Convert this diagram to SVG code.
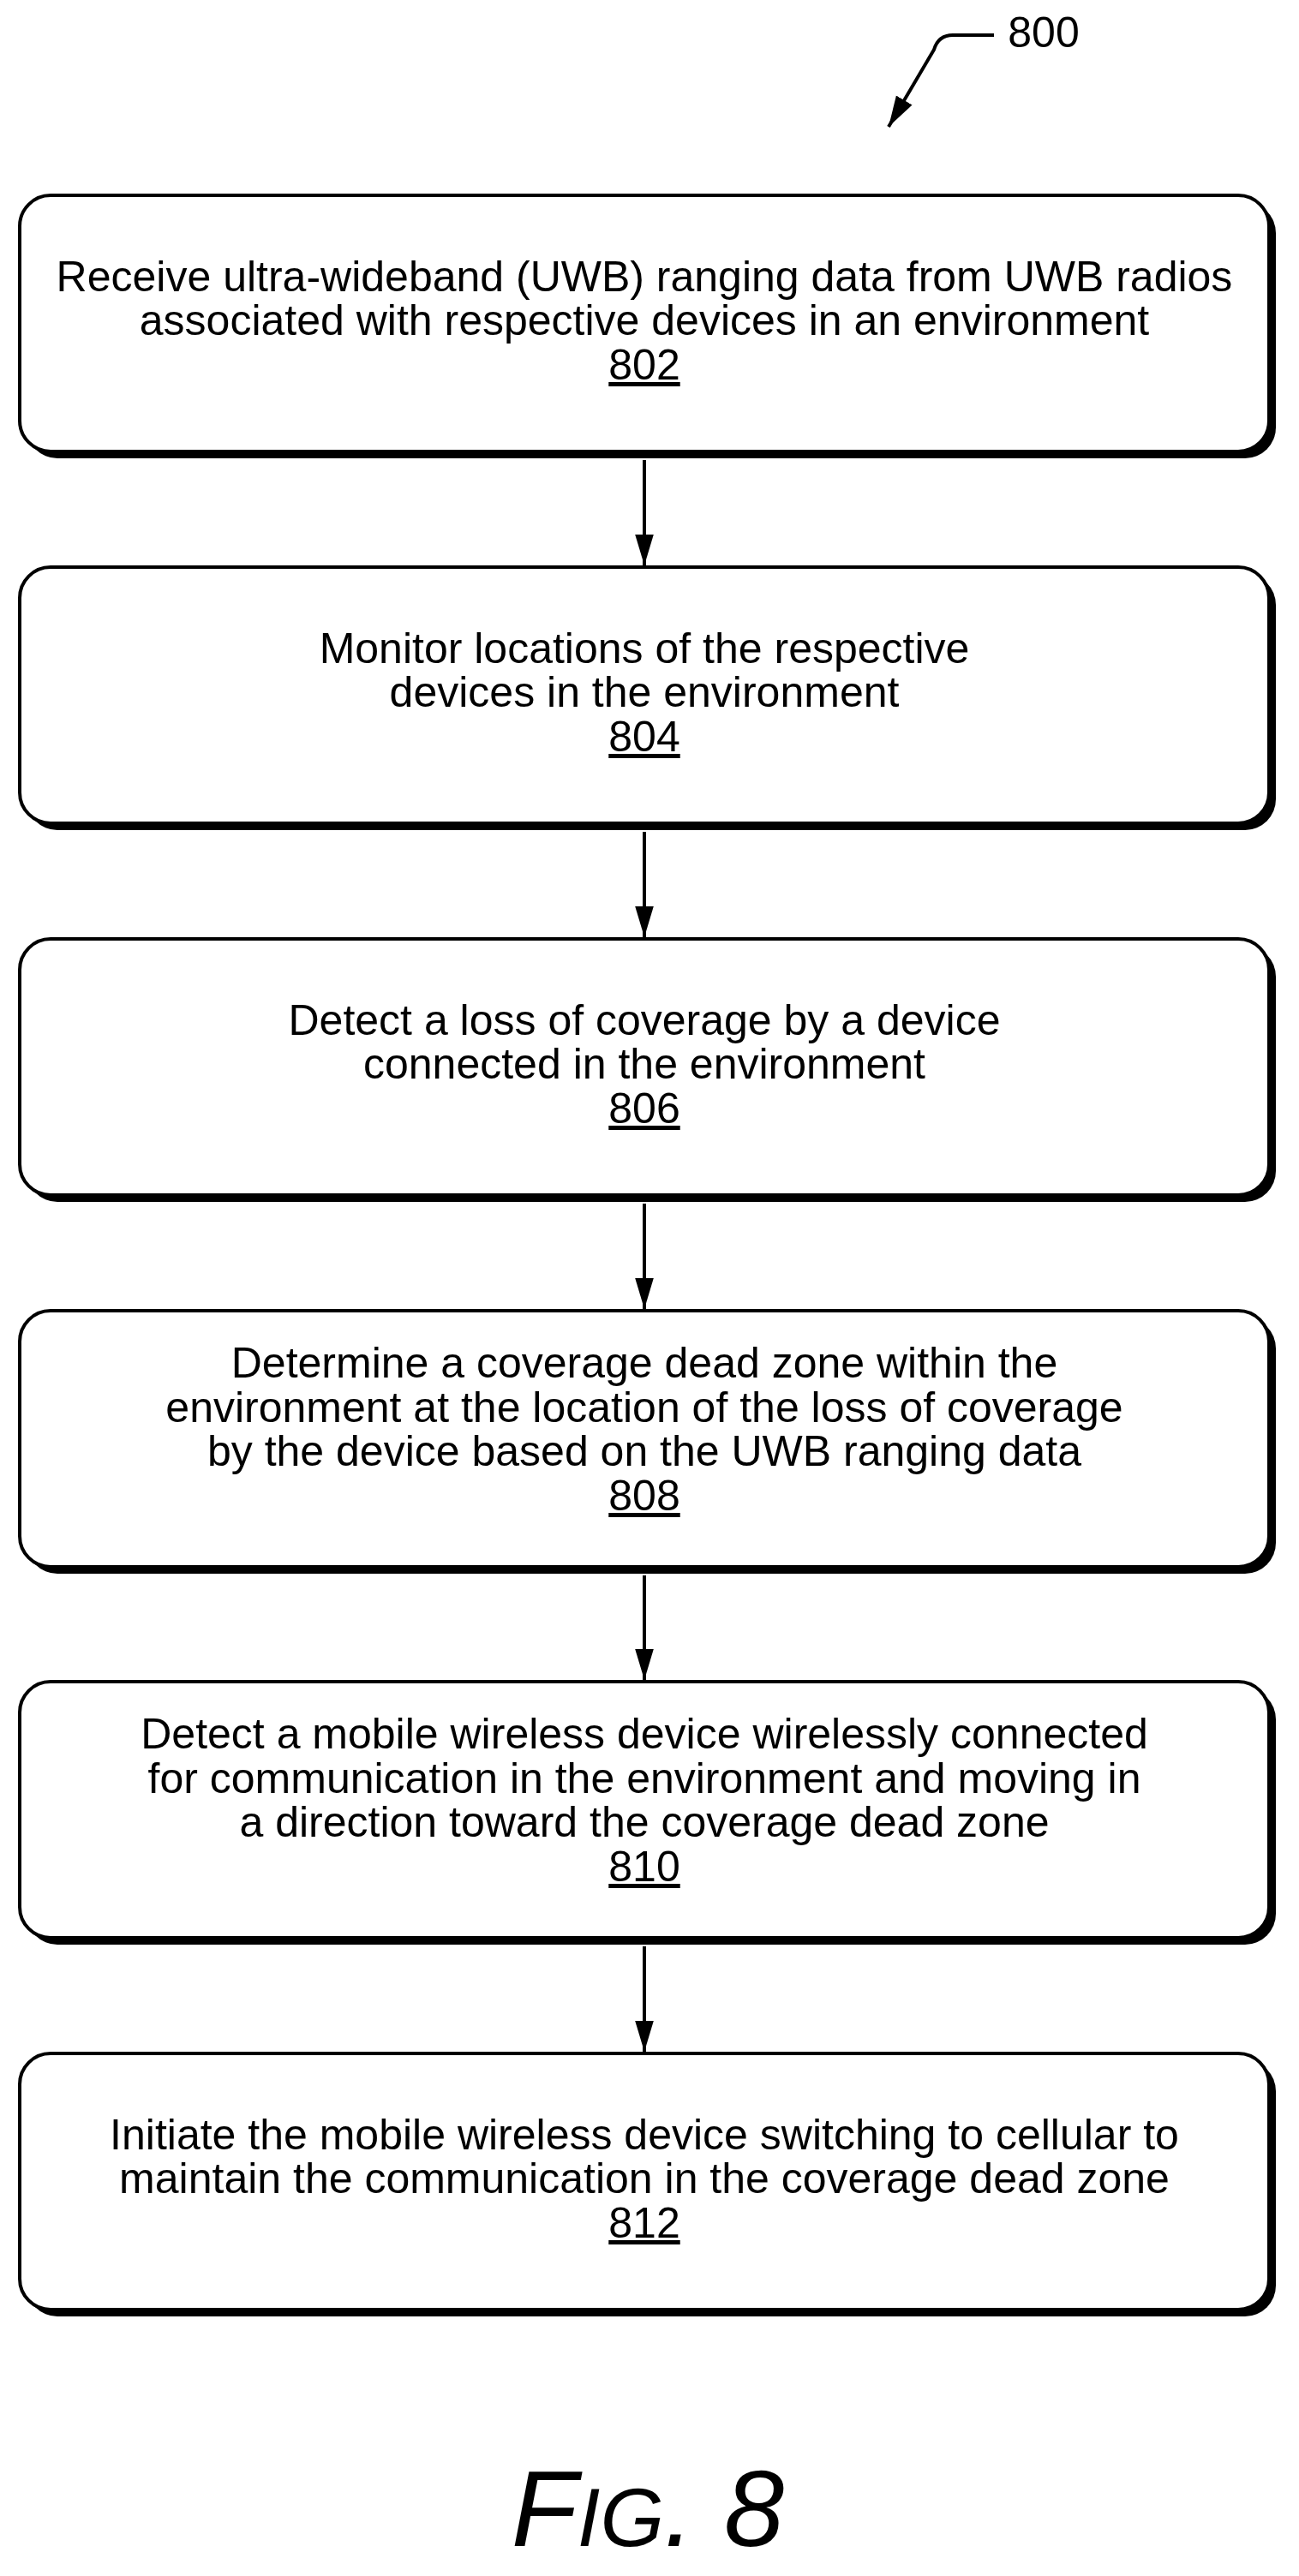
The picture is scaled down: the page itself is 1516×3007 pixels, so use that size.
<svg xmlns="http://www.w3.org/2000/svg" width="1516" height="3007" viewBox="0 0 1516 3007">
<style>
.box{fill:#fff;stroke:#000;stroke-width:4}
.sh{fill:#000}
text{font-family:"Liberation Sans",Arial,sans-serif;font-size:50px;text-anchor:middle;fill:#000}
.num{text-decoration:underline}
.conn{stroke:#000;stroke-width:4;fill:none}
</style>
<defs>
<marker id="ah" viewBox="0 0 10 10" refX="10" refY="5" markerWidth="9" markerHeight="9" markerUnits="strokeWidth" orient="auto"><path d="M0,2 L10,5 L0,8 z" fill="#000"/></marker>
</defs>
<g id="ref800">
<text x="1218" y="55">800</text>
<path class="conn" d="M1160,41 H1112 Q1095,41 1090,58 L1037,148" marker-end="url(#ah)"/>
</g>
<g id="n802"><rect class="sh" x="31" y="236" width="1458" height="299" rx="36"/><rect class="box" x="23" y="228" width="1458" height="299" rx="36"/>
<text x="752" y="340">Receive ultra-wideband (UWB) ranging data from UWB radios</text><text x="752" y="391">associated with respective devices in an environment</text><text class="num" x="752" y="443">802</text></g>
<g id="n804"><rect class="sh" x="31" y="670" width="1458" height="299" rx="36"/><rect class="box" x="23" y="662" width="1458" height="299" rx="36"/>
<text x="752" y="774">Monitor locations of the respective</text><text x="752" y="825">devices in the environment</text><text class="num" x="752" y="877">804</text></g>
<g id="n806"><rect class="sh" x="31" y="1104" width="1458" height="299" rx="36"/><rect class="box" x="23" y="1096" width="1458" height="299" rx="36"/>
<text x="752" y="1208">Detect a loss of coverage by a device</text><text x="752" y="1259">connected in the environment</text><text class="num" x="752" y="1311">806</text></g>
<g id="n808"><rect class="sh" x="31" y="1538" width="1458" height="299" rx="36"/><rect class="box" x="23" y="1530" width="1458" height="299" rx="36"/>
<text x="752" y="1608">Determine a coverage dead zone within the</text><text x="752" y="1660">environment at the location of the loss of coverage</text><text x="752" y="1711">by the device based on the UWB ranging data</text><text class="num" x="752" y="1763">808</text></g>
<g id="n810"><rect class="sh" x="31" y="1971" width="1458" height="299" rx="36"/><rect class="box" x="23" y="1963" width="1458" height="299" rx="36"/>
<text x="752" y="2041">Detect a mobile wireless device wirelessly connected</text><text x="752" y="2093">for communication in the environment and moving in</text><text x="752" y="2144">a direction toward the coverage dead zone</text><text class="num" x="752" y="2196">810</text></g>
<g id="n812"><rect class="sh" x="31" y="2405" width="1458" height="299" rx="36"/><rect class="box" x="23" y="2397" width="1458" height="299" rx="36"/>
<text x="752" y="2509">Initiate the mobile wireless device switching to cellular to</text><text x="752" y="2560">maintain the communication in the coverage dead zone</text><text class="num" x="752" y="2612">812</text></g>
<g id="connectors">
<path class="conn" d="M752,537 V660" marker-end="url(#ah)"/>
<path class="conn" d="M752,971 V1094" marker-end="url(#ah)"/>
<path class="conn" d="M752,1405 V1528" marker-end="url(#ah)"/>
<path class="conn" d="M752,1839 V1961" marker-end="url(#ah)"/>
<path class="conn" d="M752,2272 V2395" marker-end="url(#ah)"/>
</g>
<text x="756" y="2972" style="font-style:italic;font-size:126px">F<tspan style="font-size:96px">IG</tspan>. 8</text>
</svg>
